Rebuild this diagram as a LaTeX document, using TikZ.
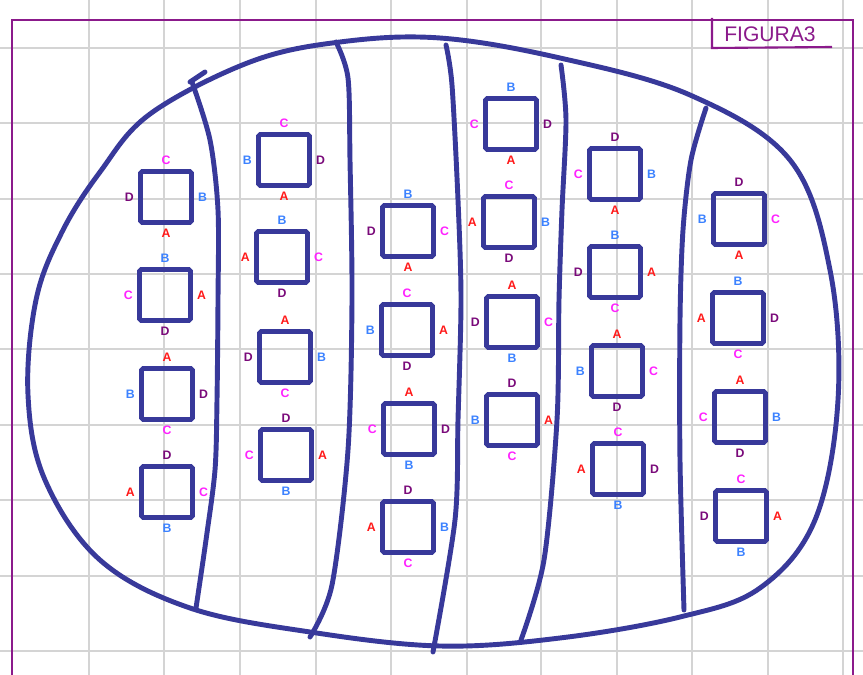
\documentclass[tikz,border=0pt]{standalone}
\usepackage{fontspec}
\setsansfont{Liberation Sans}
\usepackage{xcolor}
\definecolor{inkblue}{HTML}{38399A}
\definecolor{framepurple}{HTML}{8B1A8B}
\definecolor{gridgray}{HTML}{D4D4D4}
\definecolor{colA}{HTML}{FF1A1A}
\definecolor{colB}{HTML}{3C82FF}
\definecolor{colC}{HTML}{FF22FF}
\definecolor{colD}{HTML}{7A0A7A}

% one square with its four letters: name, x, y, top, right, bottom, left
\newcommand{\tile}[7]{%
  \node[tilebox, label={[let#4]above:#4}, label={[let#5]right:#5},
        label={[let#6]below:#6}, label={[let#7]left:#7}] (#1) at (#2,#3) {};}

\begin{document}
\begin{tikzpicture}[
  x=0.02cm, y=-0.02cm,
  every label/.style={font=\sffamily\bfseries\scriptsize, inner sep=0pt},
  label distance=2.2pt,
  tilebox/.style={draw=inkblue, line width=2.8pt, rounded corners=1pt,
                  minimum size=1.02cm, inner sep=0pt},
  letA/.style={text=colA}, letB/.style={text=colB},
  letC/.style={text=colC}, letD/.style={text=colD},
  wall/.style={draw=inkblue, line width=2.8pt, line cap=round}
]
\useasboundingbox (0,0) rectangle (863,675);
\fill[white] (0,0) rectangle (863,675);

% grid
\foreach \gx in {89,164,240,316,391,467,541,617,692,768,843}
  \draw[gridgray, line width=1.1pt] (\gx,0) -- (\gx,675);
\foreach \gy in {48,123,199,274,349,425,500,576,651}
  \draw[gridgray, line width=1.1pt] (0,\gy) -- (863,\gy);

% frame
\draw[framepurple, line width=1.2pt] (12,675) -- (12,20) -- (853,20) -- (853,675);

% title
\node[text=framepurple, font=\sffamily\large] (title) at (770,34) {FIGURA3};
\draw[framepurple, line width=1.2pt] (712,18) -- (712,48) -- (832,47);

% outline
\draw[wall] plot[smooth cycle, tension=0.6] coordinates {
  (36,300) (62,232) (100,172) (150,114) (250,62) (340,42) (440,38) (560,58)
  (690,95) (790,160) (830,270) (838,400) (815,520) (760,588) (680,617)
  (560,638) (440,646) (310,632) (190,608) (100,560) (45,480) (28,395)};

% dividers
\draw[wall] plot[smooth] coordinates {(190,82) (205,72)};
\draw[wall] plot[smooth] coordinates {(192,82) (210,140) (218,210) (218,300) (217,400) (215,470) (206,540) (196,608)};
\draw[wall] plot[smooth] coordinates {(336,42) (348,78) (350,160) (352,300) (348,450) (332,585) (310,637)};
\draw[wall] plot[smooth] coordinates {(446,45) (452,85) (458,200) (461,300) (458,420) (455,520) (433,652)};
\draw[wall] plot[smooth] coordinates {(561,65) (566,120) (562,210) (559,300) (557,420) (544,560) (521,640)};
\draw[wall] plot[smooth] coordinates {(706,108) (691,160) (683,230) (680,320) (680,460) (684,610)};

% squares, column by column
\tile{s11}{166}{197}{C}{B}{A}{D}
\tile{s12}{165}{295}{B}{A}{D}{C}
\tile{s13}{167}{394}{A}{D}{C}{B}
\tile{s14}{167}{492}{D}{C}{B}{A}

\tile{s21}{284}{160}{C}{D}{A}{B}
\tile{s22}{282}{257}{B}{C}{D}{A}
\tile{s23}{285}{357}{A}{B}{C}{D}
\tile{s24}{286}{455}{D}{A}{B}{C}

\tile{s31}{408}{231}{B}{C}{A}{D}
\tile{s32}{407}{330}{C}{A}{D}{B}
\tile{s33}{409}{429}{A}{D}{B}{C}
\tile{s34}{408}{527}{D}{B}{C}{A}

\tile{s41}{511}{124}{B}{D}{A}{C}
\tile{s42}{509}{222}{C}{B}{D}{A}
\tile{s43}{512}{322}{A}{C}{B}{D}
\tile{s44}{512}{420}{D}{A}{C}{B}

\tile{s51}{615}{174}{D}{B}{A}{C}
\tile{s52}{615}{272}{B}{A}{C}{D}
\tile{s53}{617}{371}{A}{C}{D}{B}
\tile{s54}{618}{469}{C}{D}{B}{A}

\tile{s61}{739}{219}{D}{C}{A}{B}
\tile{s62}{738}{318}{B}{D}{C}{A}
\tile{s63}{740}{417}{A}{B}{D}{C}
\tile{s64}{741}{516}{C}{A}{B}{D}
\end{tikzpicture}
\end{document}
